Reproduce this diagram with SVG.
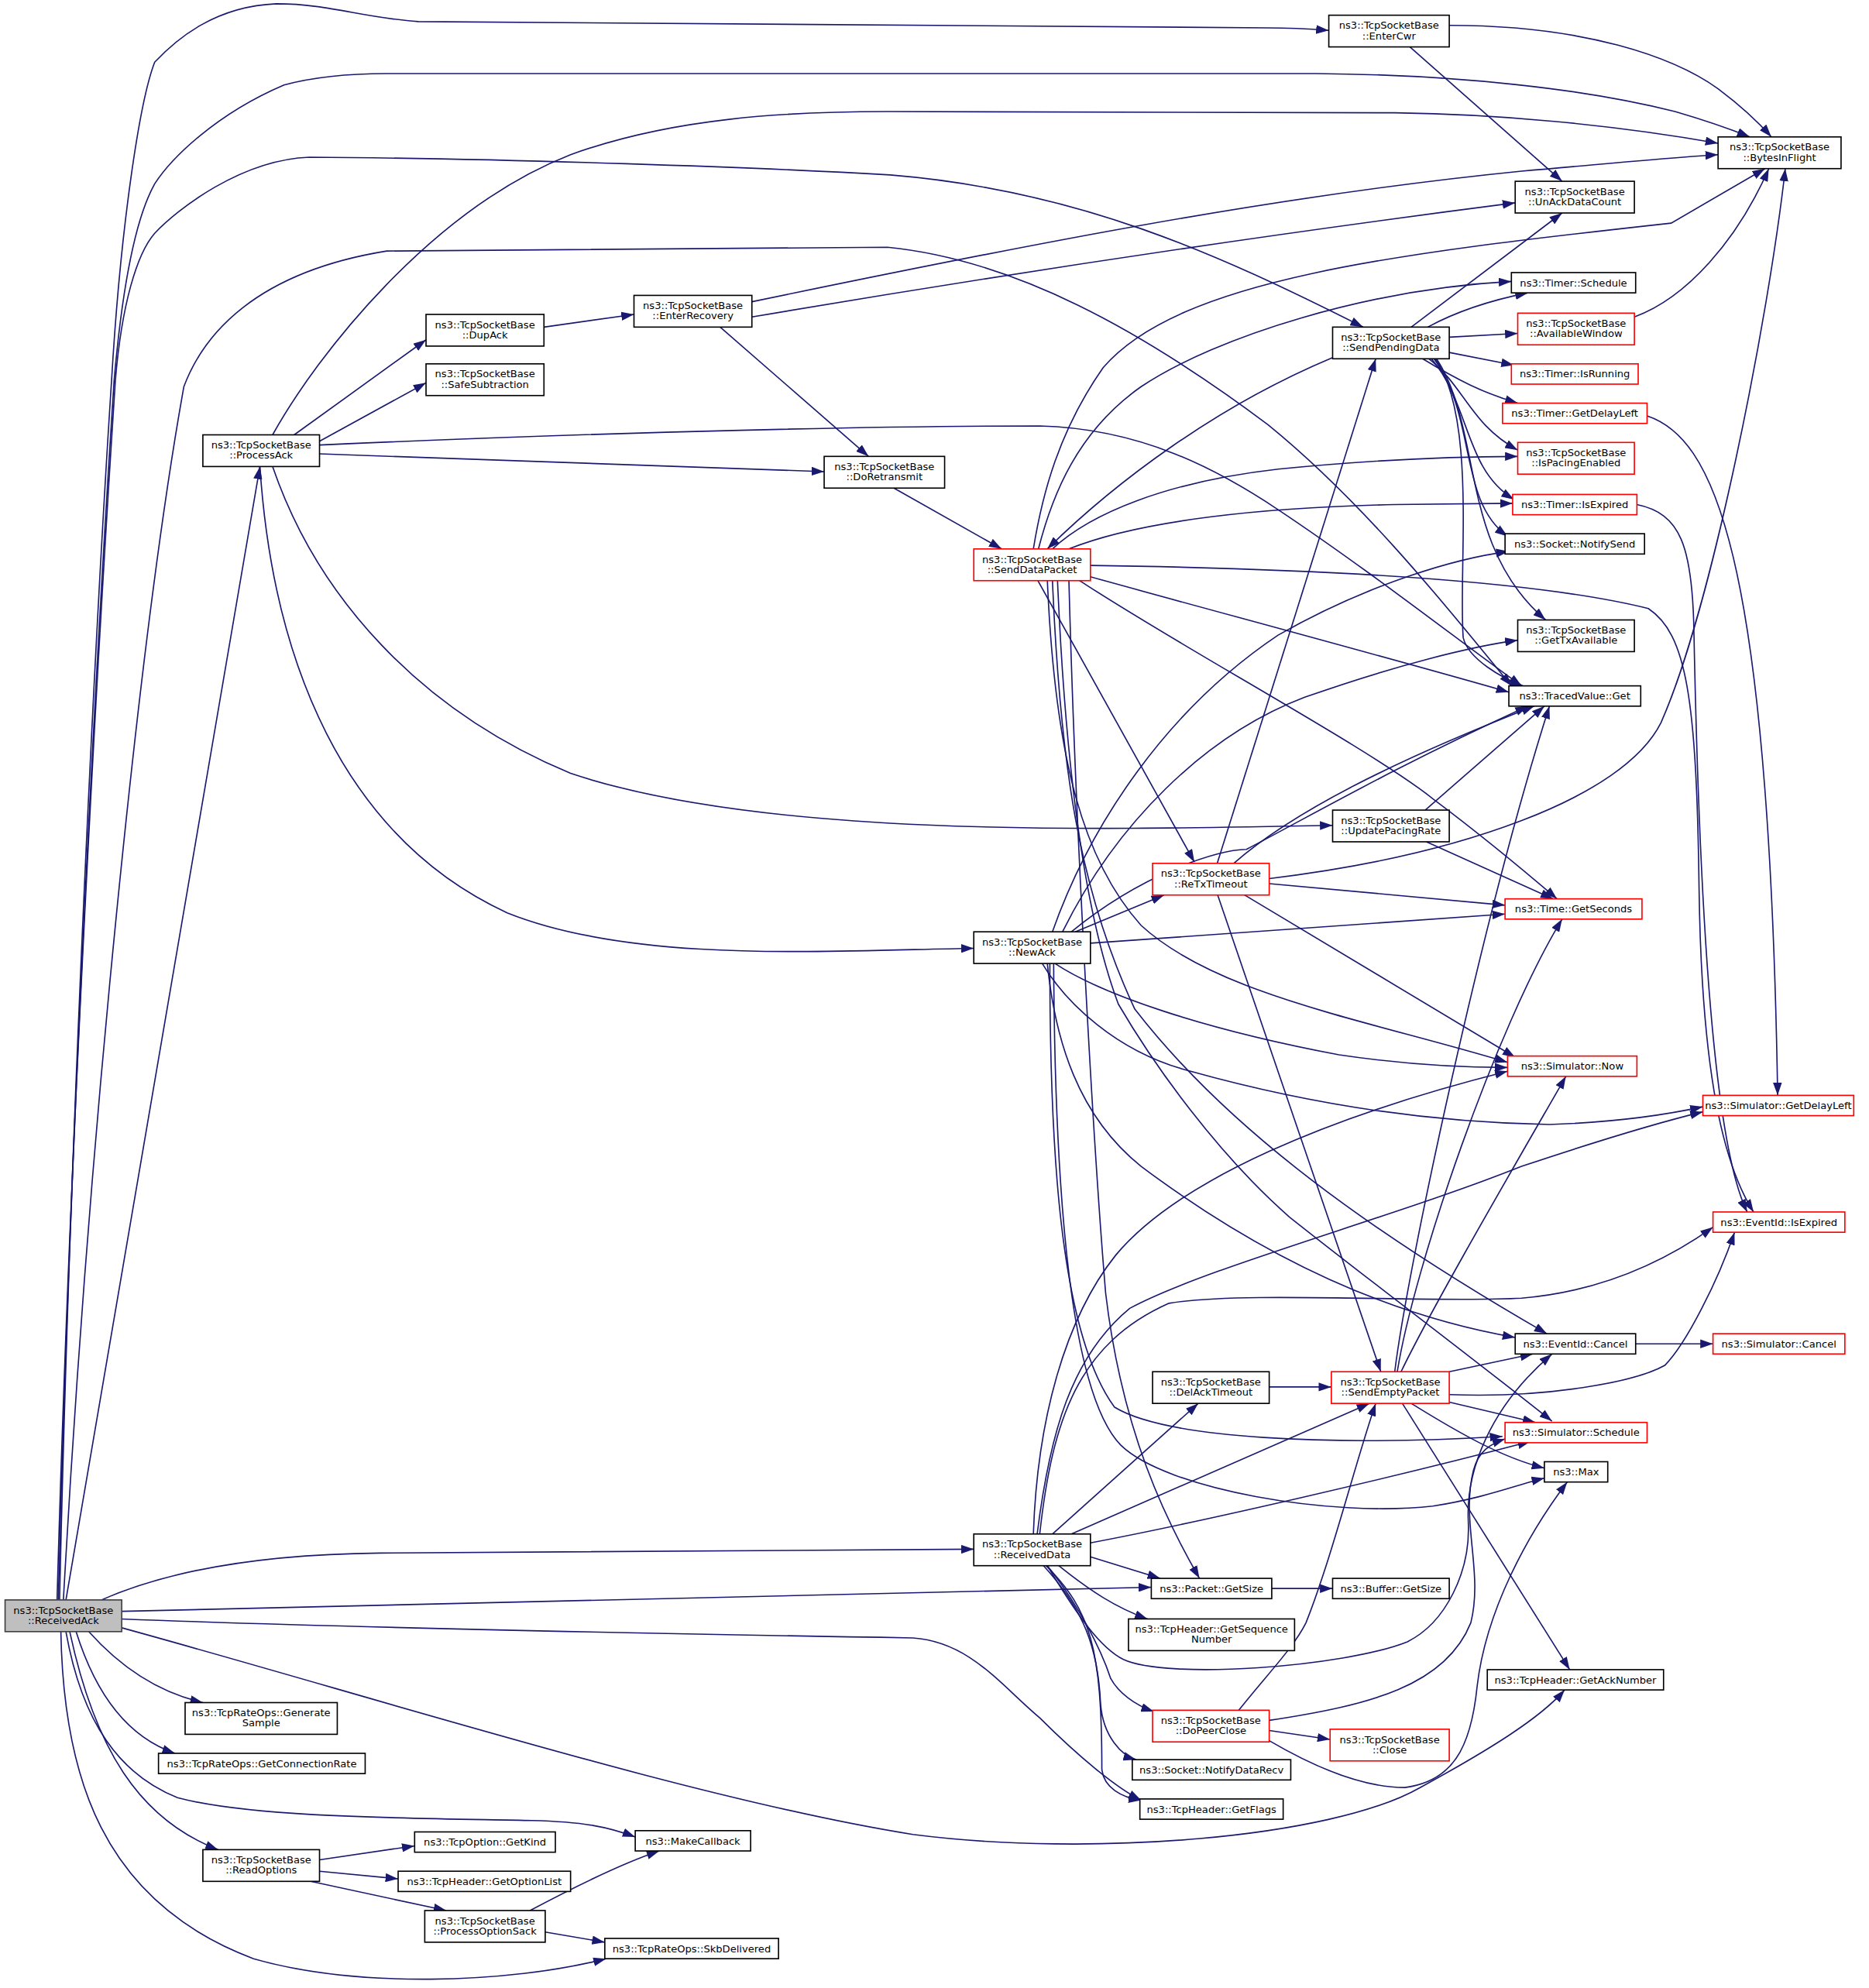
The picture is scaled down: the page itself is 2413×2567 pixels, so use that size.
<svg xmlns="http://www.w3.org/2000/svg" width="2413" height="2567" viewBox="0 0 2413 2567">
<style>
.e{fill:none;stroke:#191970;stroke-width:1;marker-end:url(#a)}
.nd rect{fill:#fff;stroke:#000;stroke-width:1}
.nd.red rect{stroke:#f00}
.nd.root rect{fill:#bfbfbf;stroke:#404040}
text{font-family:"DejaVu Sans","Liberation Sans",sans-serif;font-size:8px;text-anchor:middle;fill:#000}
</style>
<defs>
<marker id="a" viewBox="0 0 10 7" refX="10" refY="3.5" markerWidth="10" markerHeight="7" orient="auto" markerUnits="strokeWidth"><path d="M0,0 L10,3.5 L0,7 z" fill="#191970"/></marker>
</defs>
<rect width="2413" height="2567" fill="#fff"/>
<g transform="scale(1.637)">
<g id="edges">
<path class="e" d="M47,1262 C55,900 75,500 88,300 C95,180 110,80 122,49 C140,30 170,5 218,3 C260,3 285,14 330,17 L1000,22 C1020,22 1035,23 1048,24"/>
<path class="e" d="M46,1262 C55,900 77,500 90,300 C97,220 108,170 122,145 C135,125 170,90 224,67 C250,60 280,58 305,58 L1038,58 C1150,59 1250,70 1321,88 C1345,95 1365,102 1380,108"/>
<path class="e" d="M45,1262 C55,900 78,500 91,300 C96,240 108,200 122,184 C140,165 190,126 244,124 C400,125 600,132 702,138 C850,150 960,200 1075,258"/>
<path class="e" d="M50,1262 C70,900 110,500 145,305 C160,265 200,215 305,198 L700,195 C800,205 900,260 1000,335 C1080,400 1150,490 1192,541"/>
<path class="e" d="M52,1262 L205,368"/>
<path class="e" d="M80,1262 C130,1240 200,1226 300,1225 L768,1222"/>
<path class="e" d="M96,1271 C400,1262 700,1255 908,1252"/>
<path class="e" d="M96,1277 C300,1285 600,1290 720,1292 C765,1295 790,1330 820,1355 C850,1385 880,1410 900,1420"/>
<path class="e" d="M96,1284 C300,1340 550,1420 720,1447 C860,1465 1050,1450 1120,1410 C1175,1380 1215,1355 1234,1333"/>
<path class="e" d="M70,1287 C95,1315 125,1335 160,1343"/>
<path class="e" d="M60,1287 C75,1335 100,1370 138,1383"/>
<path class="e" d="M55,1287 C75,1380 110,1435 172,1459"/>
<path class="e" d="M52,1287 C65,1360 95,1400 140,1418 C200,1434 320,1434 420,1436 C460,1437 480,1441 501,1449"/>
<path class="e" d="M48,1287 C50,1400 80,1500 200,1545 C280,1568 400,1565 478,1545"/>
<path class="e" d="M232,343 L336,268"/>
<path class="e" d="M252,348 L336,302"/>
<path class="e" d="M215,343 C250,280 340,165 450,122 C530,93 620,88 700,88 L1100,89 C1180,90 1270,98 1355,113"/>
<path class="e" d="M252,358 L650,372"/>
<path class="e" d="M252,351 C500,340 700,336 820,336 C900,338 960,370 1008,402 C1080,450 1150,505 1200,541"/>
<path class="e" d="M215,368 C250,470 330,560 450,610 C600,660 850,655 1051,651"/>
<path class="e" d="M205,368 C215,520 270,660 400,720 C500,760 650,750 768,748"/>
<path class="e" d="M429,258 L500,248"/>
<path class="e" d="M593,238 C800,195 1000,155 1200,135 C1280,128 1320,124 1355,122"/>
<path class="e" d="M593,250 C800,215 1000,185 1195,160"/>
<path class="e" d="M568,258 L685,360"/>
<path class="e" d="M1143,20 C1250,20 1320,45 1355,70 C1375,85 1390,100 1397,108"/>
<path class="e" d="M1112,37 L1232,143"/>
<path class="e" d="M705,385 L790,433"/>
<path class="e" d="M1051,282 C960,320 880,380 826,433"/>
<path class="e" d="M819,433 C830,390 850,340 900,305 C960,265 1080,228 1192,222"/>
<path class="e" d="M815,433 C822,390 835,340 870,290 C930,220 1100,200 1318,176 L1392,133"/>
<path class="e" d="M830,433 C860,405 920,380 1008,370 C1080,363 1150,360 1197,360"/>
<path class="e" d="M843,433 C900,410 1000,400 1100,398 L1193,397"/>
<path class="e" d="M860,446 C1000,448 1200,455 1300,480 C1330,500 1338,550 1340,700 C1342,850 1360,920 1383,956"/>
<path class="e" d="M860,455 C950,480 1100,520 1190,546"/>
<path class="e" d="M850,457 C930,510 1080,590 1130,630 C1170,660 1200,685 1228,709"/>
<path class="e" d="M818,457 L942,680"/>
<path class="e" d="M843,457 C848,650 862,900 872,1020 C885,1130 920,1200 946,1245"/>
<path class="e" d="M826,457 C832,600 855,680 900,730 C960,785 1080,805 1189,838"/>
<path class="e" d="M830,457 C836,600 850,700 895,796 C960,880 1060,960 1220,1052"/>
<path class="e" d="M834,457 C840,600 855,720 882,792 C910,840 960,910 1017,960 C1080,1010 1160,1070 1224,1121"/>
<path class="e" d="M1126,258 C1150,245 1180,236 1205,231"/>
<path class="e" d="M1113,258 L1232,168"/>
<path class="e" d="M1143,266 L1197,263"/>
<path class="e" d="M1143,278 L1194,288"/>
<path class="e" d="M1122,283 C1150,300 1170,310 1197,318"/>
<path class="e" d="M1127,283 C1155,305 1160,335 1197,355"/>
<path class="e" d="M1129,283 C1160,320 1155,370 1194,394"/>
<path class="e" d="M1131,283 C1165,330 1150,395 1189,423"/>
<path class="e" d="M1133,283 C1170,340 1150,430 1219,489"/>
<path class="e" d="M1132,283 C1165,330 1150,450 1154,503 C1158,520 1185,535 1201,541"/>
<path class="e" d="M1289,250 C1330,235 1370,190 1395,133"/>
<path class="e" d="M1299,328 C1350,345 1395,430 1402,864"/>
<path class="e" d="M1291,398 C1325,405 1335,430 1336,500 C1340,700 1350,900 1378,956"/>
<path class="e" d="M960,681 L1085,283"/>
<path class="e" d="M1001,693 C1150,675 1280,630 1310,570 C1350,480 1395,250 1408,133"/>
<path class="e" d="M973,681 C1020,640 1100,600 1210,557"/>
<path class="e" d="M1001,697 L1187,714"/>
<path class="e" d="M980,705 L1195,834"/>
<path class="e" d="M960,705 L1089,1082"/>
<path class="e" d="M1124,639 L1218,557"/>
<path class="e" d="M1125,664 L1225,709"/>
<path class="e" d="M848,735 L918,706"/>
<path class="e" d="M860,744 L1187,721"/>
<path class="e" d="M845,735 C900,690 960,670 983,670 C1040,640 1100,605 1205,557"/>
<path class="e" d="M830,735 C860,650 920,560 1008,501 C1080,460 1150,440 1190,435"/>
<path class="e" d="M838,735 C880,650 950,580 1029,550 C1100,525 1160,510 1197,505"/>
<path class="e" d="M832,760 C870,785 950,812 1056,832 C1110,840 1150,842 1189,842"/>
<path class="e" d="M822,760 C840,790 880,830 939,845 C1000,862 1100,885 1222,887 C1280,885 1320,878 1343,873"/>
<path class="e" d="M826,760 C832,820 850,880 900,920 C980,980 1080,1035 1195,1055"/>
<path class="e" d="M828,760 C828,900 835,1050 879,1110 C920,1135 1050,1141 1185,1133"/>
<path class="e" d="M831,760 C832,950 845,1100 884,1140 C920,1175 1050,1197 1130,1188 C1170,1182 1200,1170 1218,1166"/>
<path class="e" d="M815,1210 C818,1120 840,1040 880,990 C930,930 1050,880 1189,845"/>
<path class="e" d="M818,1210 C828,1130 845,1070 891,1032 C950,1000 1100,960 1200,920 C1260,900 1310,885 1343,877"/>
<path class="e" d="M820,1210 C830,1120 850,1060 922,1028 C980,1018 1130,1028 1200,1024 C1270,1018 1320,990 1351,968"/>
<path class="e" d="M830,1210 L945,1107"/>
<path class="e" d="M845,1210 L1080,1107"/>
<path class="e" d="M860,1217 C950,1200 1100,1165 1207,1137"/>
<path class="e" d="M860,1228 L915,1245"/>
<path class="e" d="M835,1235 C860,1255 880,1268 905,1277"/>
<path class="e" d="M826,1235 C850,1275 868,1300 886,1309 C920,1325 1060,1315 1110,1295 C1140,1280 1160,1240 1158,1200 C1156,1160 1175,1110 1224,1068"/>
<path class="e" d="M826,1235 C850,1265 868,1300 876,1324 C882,1335 895,1345 910,1350"/>
<path class="e" d="M823,1235 C855,1270 866,1300 868,1344 C870,1370 885,1385 896,1388"/>
<path class="e" d="M825,1235 C860,1270 869,1300 869,1395 C870,1410 885,1418 900,1420"/>
<path class="e" d="M977,1349 C1000,1320 1020,1300 1030,1280 C1050,1230 1070,1150 1085,1107"/>
<path class="e" d="M1001,1357 C1080,1345 1140,1330 1160,1280 C1170,1240 1152,1200 1162,1160 C1166,1145 1175,1139 1187,1135"/>
<path class="e" d="M1001,1365 L1049,1372"/>
<path class="e" d="M1001,1373 C1030,1390 1070,1410 1108,1410 C1145,1405 1160,1380 1165,1330 C1172,1270 1205,1210 1236,1169"/>
<path class="e" d="M1143,1082 L1209,1068"/>
<path class="e" d="M1143,1100 C1220,1103 1290,1090 1313,1077 C1330,1060 1355,1010 1368,972"/>
<path class="e" d="M1143,1106 L1211,1122"/>
<path class="e" d="M1113,1107 C1150,1130 1185,1150 1218,1158"/>
<path class="e" d="M1106,1107 L1238,1317"/>
<path class="e" d="M1100,1082 C1110,1000 1170,720 1222,557"/>
<path class="e" d="M1102,1082 C1115,1000 1180,810 1232,725"/>
<path class="e" d="M1105,1082 C1130,1030 1200,910 1235,849"/>
<path class="e" d="M1001,1094 L1050,1094"/>
<path class="e" d="M1003,1253 L1051,1253"/>
<path class="e" d="M1290,1060 L1351,1060"/>
<path class="e" d="M252,1467 L327,1456"/>
<path class="e" d="M252,1476 L314,1482"/>
<path class="e" d="M245,1484 L352,1507"/>
<path class="e" d="M418,1507 C450,1490 490,1470 520,1460"/>
<path class="e" d="M430,1524 L477,1532"/>
</g>
<g id="n_ReceivedAck" class="nd root"><rect x="4" y="1262" width="92" height="25"/><text x="50" y="1272.8">ns3::TcpSocketBase</text><text x="50" y="1280.9">::ReceivedAck</text></g>
<g id="n_EnterCwr" class="nd"><rect x="1048" y="12" width="95" height="25"/><text x="1095.5" y="22.8">ns3::TcpSocketBase</text><text x="1095.5" y="30.9">::EnterCwr</text></g>
<g id="n_BytesInFlight" class="nd"><rect x="1355" y="108" width="97" height="25"/><text x="1403.5" y="118.8">ns3::TcpSocketBase</text><text x="1403.5" y="126.9">::BytesInFlight</text></g>
<g id="n_UnAckDataCount" class="nd"><rect x="1195" y="143" width="94" height="25"/><text x="1242" y="153.8">ns3::TcpSocketBase</text><text x="1242" y="161.9">::UnAckDataCount</text></g>
<g id="n_TimerSchedule" class="nd"><rect x="1192" y="215" width="98" height="16"/><text x="1241" y="225.8">ns3::Timer::Schedule</text></g>
<g id="n_AvailableWindow" class="nd red"><rect x="1197" y="247" width="92" height="25"/><text x="1243" y="257.8">ns3::TcpSocketBase</text><text x="1243" y="265.9">::AvailableWindow</text></g>
<g id="n_TimerIsRunning" class="nd red"><rect x="1192" y="287" width="100" height="16"/><text x="1242" y="297.8">ns3::Timer::IsRunning</text></g>
<g id="n_TimerGetDelayLeft" class="nd red"><rect x="1185" y="318" width="114" height="16"/><text x="1242" y="328.8">ns3::Timer::GetDelayLeft</text></g>
<g id="n_IsPacingEnabled" class="nd red"><rect x="1197" y="349" width="92" height="25"/><text x="1243" y="359.8">ns3::TcpSocketBase</text><text x="1243" y="367.9">::IsPacingEnabled</text></g>
<g id="n_TimerIsExpired" class="nd red"><rect x="1193" y="390" width="98" height="16"/><text x="1242" y="400.8">ns3::Timer::IsExpired</text></g>
<g id="n_NotifySend" class="nd"><rect x="1187" y="421" width="110" height="16"/><text x="1242" y="431.8">ns3::Socket::NotifySend</text></g>
<g id="n_GetTxAvailable" class="nd"><rect x="1197" y="489" width="92" height="25"/><text x="1243" y="499.8">ns3::TcpSocketBase</text><text x="1243" y="507.9">::GetTxAvailable</text></g>
<g id="n_TracedValueGet" class="nd"><rect x="1190" y="541" width="104" height="16"/><text x="1242" y="551.8">ns3::TracedValue::Get</text></g>
<g id="n_UpdatePacingRate" class="nd"><rect x="1051" y="639" width="92" height="25"/><text x="1097" y="649.8">ns3::TcpSocketBase</text><text x="1097" y="657.9">::UpdatePacingRate</text></g>
<g id="n_TimeGetSeconds" class="nd red"><rect x="1187" y="709" width="108" height="16"/><text x="1241" y="719.8">ns3::Time::GetSeconds</text></g>
<g id="n_SimulatorNow" class="nd red"><rect x="1189" y="833" width="102" height="16"/><text x="1240" y="843.8">ns3::Simulator::Now</text></g>
<g id="n_SimulatorGetDelayLeft" class="nd red"><rect x="1343" y="864" width="119" height="16"/><text x="1402.5" y="874.8">ns3::Simulator::GetDelayLeft</text></g>
<g id="n_EventIdIsExpired" class="nd red"><rect x="1351" y="956" width="104" height="16"/><text x="1403" y="966.8">ns3::EventId::IsExpired</text></g>
<g id="n_EventIdCancel" class="nd"><rect x="1195" y="1052" width="95" height="16"/><text x="1242.5" y="1062.8">ns3::EventId::Cancel</text></g>
<g id="n_SimulatorCancel" class="nd red"><rect x="1351" y="1052" width="104" height="16"/><text x="1403" y="1062.8">ns3::Simulator::Cancel</text></g>
<g id="n_SimulatorSchedule" class="nd red"><rect x="1187" y="1122" width="112" height="16"/><text x="1243" y="1132.8">ns3::Simulator::Schedule</text></g>
<g id="n_Max" class="nd"><rect x="1218" y="1153" width="50" height="16"/><text x="1243" y="1163.8">ns3::Max</text></g>
<g id="n_BufferGetSize" class="nd"><rect x="1051" y="1245" width="92" height="16"/><text x="1097" y="1255.8">ns3::Buffer::GetSize</text></g>
<g id="n_GetAckNumber" class="nd"><rect x="1173" y="1317" width="139" height="16"/><text x="1242.5" y="1327.8">ns3::TcpHeader::GetAckNumber</text></g>
<g id="n_Close" class="nd red"><rect x="1049" y="1364" width="94" height="25"/><text x="1096" y="1374.8">ns3::TcpSocketBase</text><text x="1096" y="1382.9">::Close</text></g>
<g id="n_SendPendingData" class="nd"><rect x="1051" y="258" width="92" height="25"/><text x="1097" y="268.8">ns3::TcpSocketBase</text><text x="1097" y="276.9">::SendPendingData</text></g>
<g id="n_DupAck" class="nd"><rect x="336" y="248" width="93" height="25"/><text x="382.5" y="258.8">ns3::TcpSocketBase</text><text x="382.5" y="266.9">::DupAck</text></g>
<g id="n_SafeSubtraction" class="nd"><rect x="336" y="287" width="93" height="25"/><text x="382.5" y="297.8">ns3::TcpSocketBase</text><text x="382.5" y="305.9">::SafeSubtraction</text></g>
<g id="n_ProcessAck" class="nd"><rect x="160" y="343" width="92" height="25"/><text x="206" y="353.8">ns3::TcpSocketBase</text><text x="206" y="361.9">::ProcessAck</text></g>
<g id="n_EnterRecovery" class="nd"><rect x="500" y="233" width="93" height="25"/><text x="546.5" y="243.8">ns3::TcpSocketBase</text><text x="546.5" y="251.9">::EnterRecovery</text></g>
<g id="n_DoRetransmit" class="nd"><rect x="650" y="360" width="95" height="25"/><text x="697.5" y="370.8">ns3::TcpSocketBase</text><text x="697.5" y="378.9">::DoRetransmit</text></g>
<g id="n_SendDataPacket" class="nd red"><rect x="768" y="433" width="92" height="25"/><text x="814" y="443.8">ns3::TcpSocketBase</text><text x="814" y="451.9">::SendDataPacket</text></g>
<g id="n_ReTxTimeout" class="nd red"><rect x="909" y="681" width="92" height="25"/><text x="955" y="691.8">ns3::TcpSocketBase</text><text x="955" y="699.9">::ReTxTimeout</text></g>
<g id="n_NewAck" class="nd"><rect x="768" y="735" width="92" height="25"/><text x="814" y="745.8">ns3::TcpSocketBase</text><text x="814" y="753.9">::NewAck</text></g>
<g id="n_DelAckTimeout" class="nd"><rect x="909" y="1082" width="92" height="25"/><text x="955" y="1092.8">ns3::TcpSocketBase</text><text x="955" y="1100.9">::DelAckTimeout</text></g>
<g id="n_SendEmptyPacket" class="nd red"><rect x="1050" y="1082" width="93" height="25"/><text x="1096.5" y="1092.8">ns3::TcpSocketBase</text><text x="1096.5" y="1100.9">::SendEmptyPacket</text></g>
<g id="n_ReceivedData" class="nd"><rect x="768" y="1210" width="92" height="25"/><text x="814" y="1220.8">ns3::TcpSocketBase</text><text x="814" y="1228.9">::ReceivedData</text></g>
<g id="n_PacketGetSize" class="nd"><rect x="908" y="1245" width="95" height="16"/><text x="955.5" y="1255.8">ns3::Packet::GetSize</text></g>
<g id="n_GetSequenceNumber" class="nd"><rect x="890" y="1277" width="131" height="25"/><text x="955.5" y="1287.8">ns3::TcpHeader::GetSequence</text><text x="955.5" y="1295.9">Number</text></g>
<g id="n_DoPeerClose" class="nd red"><rect x="909" y="1349" width="92" height="25"/><text x="955" y="1359.8">ns3::TcpSocketBase</text><text x="955" y="1367.9">::DoPeerClose</text></g>
<g id="n_NotifyDataRecv" class="nd"><rect x="893" y="1388" width="125" height="16"/><text x="955.5" y="1398.8">ns3::Socket::NotifyDataRecv</text></g>
<g id="n_GetFlags" class="nd"><rect x="899" y="1419" width="113" height="16"/><text x="955.5" y="1429.8">ns3::TcpHeader::GetFlags</text></g>
<g id="n_GenerateSample" class="nd"><rect x="146" y="1343" width="120" height="25"/><text x="206" y="1353.8">ns3::TcpRateOps::Generate</text><text x="206" y="1361.9">Sample</text></g>
<g id="n_GetConnectionRate" class="nd"><rect x="125" y="1383" width="163" height="16"/><text x="206.5" y="1393.8">ns3::TcpRateOps::GetConnectionRate</text></g>
<g id="n_ReadOptions" class="nd"><rect x="160" y="1459" width="92" height="25"/><text x="206" y="1469.8">ns3::TcpSocketBase</text><text x="206" y="1477.9">::ReadOptions</text></g>
<g id="n_GetKind" class="nd"><rect x="327" y="1445" width="111" height="16"/><text x="382.5" y="1455.8">ns3::TcpOption::GetKind</text></g>
<g id="n_GetOptionList" class="nd"><rect x="314" y="1476" width="136" height="16"/><text x="382" y="1486.8">ns3::TcpHeader::GetOptionList</text></g>
<g id="n_ProcessOptionSack" class="nd"><rect x="335" y="1507" width="95" height="25"/><text x="382.5" y="1517.8">ns3::TcpSocketBase</text><text x="382.5" y="1525.9">::ProcessOptionSack</text></g>
<g id="n_MakeCallback" class="nd"><rect x="501" y="1444" width="91" height="16"/><text x="546.5" y="1454.8">ns3::MakeCallback</text></g>
<g id="n_SkbDelivered" class="nd"><rect x="477" y="1529" width="137" height="16"/><text x="545.5" y="1539.8">ns3::TcpRateOps::SkbDelivered</text></g>
</g>
</svg>
